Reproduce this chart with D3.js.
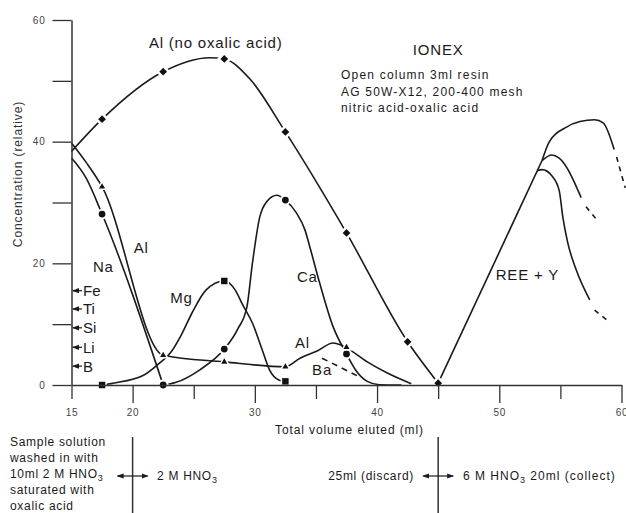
<!DOCTYPE html>
<html>
<head>
<meta charset="utf-8">
<script src="https://cdn.jsdelivr.net/npm/d3@7"></script>
<style>
  body { margin: 0; background: #fff; }
  svg { display: block; font-family: "Liberation Sans", Arial, Helvetica, sans-serif; }
</style>
</head>
<body>
<script>
// values: [total volume eluted (ml), concentration (relative)]
const alNoOxalic = [[15, 38.4], [17.5, 43.7], [22.5, 51.5], [26.3, 53.8], [27.5, 53.6], [29.6, 50.3], [32.5, 41.6], [37.5, 25], [42.5, 7.1], [45, 0.3]];
const alNoOxalicPts = [[17.5, 43.7], [22.5, 51.5], [27.5, 53.6], [32.5, 41.6], [37.5, 25], [42.5, 7.1], [45, 0.3]];

const na = [[15, 37.3], [16.2, 34], [17.5, 28.1], [22.5, 0]];
const naPts = [[17.5, 28.1], [22.5, 0]];

const al = [[15, 39.8], [16.2, 36.6], [17.5, 32.6], [22.5, 4.9], [27.5, 3.8], [32.5, 3.0], [33.7, 4.4], [35.1, 5.6], [36.4, 6.9], [37, 6.6], [37.5, 6.1], [39.2, 3.8], [40.8, 2], [42.8, 0.2]];
const alPts = [[17.5, 32.6], [22.5, 4.9], [27.5, 3.8], [32.5, 3.0], [37.5, 6.2]];

const mg = [[17.5, 0], [18.4, 0.3], [20.9, 1.6], [22.2, 3.6], [23.1, 5.3], [24, 8.3], [24.9, 12], [26, 15.6], [27.5, 17.1], [28.4, 15.6], [29, 13.2], [29.8, 10.2], [30.6, 5.8], [31.2, 2.5], [32, 0.8], [32.5, 0.6]];
const mgPts = [[17.5, 0], [27.5, 17.1], [32.5, 0.6]];

const ca = [[22.5, 0], [23.5, 0.4], [25.5, 2.5], [27.5, 5.9], [28.6, 9.2], [29.35, 12.8], [29.8, 20], [30.4, 27.6], [31, 30.2], [31.8, 31.2], [32.5, 30.4], [33.4, 28.3], [34.1, 25.5], [34.5, 22.7], [35.3, 16.8], [36.4, 9.6], [37.5, 5.1], [38.2, 2.6], [39.2, 0.6], [40.2, 0.05], [42, 0]];
const caPts = [[22.5, 0], [27.5, 5.9], [32.5, 30.4], [37.5, 5.1]];

const ba = [[35.5, 4.4], [38.7, 1.2]];

const reeStem = [[45, 0.3], [53.5, 36.9]];
const reeLow = [[53.1, 35.2], [53.5, 35.4], [54.3, 34.4], [54.9, 32], [55.2, 27.6], [55.6, 23.4], [56.3, 18.9], [57.4, 14]];
const reeLowTail = [[57.8, 12.3], [58.8, 10.7]];
const reeMid = [[53.5, 36.9], [54.3, 37.8], [54.9, 37.3], [56.7, 30.8]];
const reeMidTail = [[57.1, 29.3], [58, 27.1]];
const reeTop = [[53.5, 36.9], [54.1, 40], [55.5, 42.4], [56.6, 43.3], [57.8, 43.6], [58.5, 43.1], [59.4, 38.7]];
const reeTopTail = [[59.6, 37.5], [60.3, 32.4]];

const yTicks = [0, 10, 20, 30, 40, 50, 60];
const yTickLabels = [0, 20, 40, 60];
const xTicks = [15, 20, 25, 30, 35, 40, 45, 50, 55, 60];
const xTickLabels = [15, 20, 30, 40, 50, 60];

const sideElements = ["Fe", "Ti", "Si", "Li", "B"];
const sideLevels = [15.5, 12.5, 9.4, 6.2, 3.1];

const width = 626, height = 513;
const ink = "#1a1a1a";

const x = d3.scaleLinear().domain([15, 60]).range([71.5, 621.5]);
const y = d3.scaleLinear().domain([0, 60]).range([385, 20]);

const svg = d3.select("body").append("svg")
    .attr("width", width)
    .attr("height", height);

const defs = svg.append("defs");
defs.append("marker")
    .attr("id", "head")
    .attr("viewBox", "0 -3 7 6")
    .attr("refX", 6).attr("refY", 0)
    .attr("markerWidth", 7).attr("markerHeight", 6)
    .attr("markerUnits", "userSpaceOnUse")
    .attr("orient", "auto-start-reverse")
  .append("path")
    .attr("d", "M0,-2.6L7,0L0,2.6Z")
    .attr("fill", ink);

const smooth = d3.line().x(d => x(d[0])).y(d => y(d[1])).curve(d3.curveMonotoneX);
const straight = d3.line().x(d => x(d[0])).y(d => y(d[1]));

function curve(pts, gen, dash) {
  svg.append("path")
      .datum(pts)
      .attr("d", gen)
      .attr("fill", "none")
      .attr("stroke", ink)
      .attr("stroke-width", 1.6)
      .attr("stroke-linejoin", "round")
      .attr("stroke-dasharray", dash || null);
}

curve(alNoOxalic, smooth);
curve(na, smooth);
curve(al, smooth);
curve(mg, smooth);
curve(ca, smooth);
curve(ba, straight, "6,5");
curve(reeStem, straight);
curve(reeLow, smooth);
curve(reeMid, smooth);
curve(reeTop, smooth);
curve(reeLowTail, straight, "5,5");
curve(reeMidTail, straight, "5,5");
curve(reeTopTail, straight, "5,5");

function marks(pts, type, size, rot, halo) {
  svg.append("g")
    .selectAll("path")
    .data(pts)
    .join("path")
      .attr("transform", d => `translate(${x(d[0])},${y(d[1])}) rotate(${rot})`)
      .attr("d", d3.symbol(type, size))
      .attr("fill", "#111")
      .attr("stroke", "#fff")
      .attr("stroke-width", halo)
      .attr("paint-order", "stroke");
}

marks(alNoOxalicPts, d3.symbolSquare, 30, 45, 5);
marks(naPts, d3.symbolCircle, 36, 0, 4);
marks(caPts, d3.symbolCircle, 36, 0, 4);
marks(alPts, d3.symbolTriangle, 16, 0, 3);
marks(mgPts, d3.symbolSquare, 42, 0, 3);

// axes
const yAxis = svg.append("g")
    .attr("transform", `translate(${x(15)},0)`)
    .call(d3.axisLeft(y)
      .tickValues(yTicks)
      .tickSize(19)
      .tickSizeOuter(0)
      .tickPadding(7)
      .tickFormat(d => yTickLabels.includes(d) ? d : ""));

const xAxis = svg.append("g")
    .attr("transform", `translate(0,${y(0)})`)
    .call(d3.axisBottom(x)
      .tickValues(xTicks)
      .tickSize(18)
      .tickSizeOuter(0)
      .tickPadding(6)
      .tickFormat(d => xTickLabels.includes(d) ? d : ""));

xAxis.selectAll(".tick line")
    .attr("y2", d => (xTickLabels.includes(d) && d !== 15) ? 18 : 14);

[yAxis, xAxis].forEach(a => {
  a.attr("color", "#333");
  a.select(".domain").attr("stroke-width", 1.5);
  a.selectAll(".tick line").attr("stroke-width", 1.3);
  a.selectAll(".tick text")
      .attr("fill", "#444")
      .style("font-size", "10px")
      .style("letter-spacing", "0.8px")
      .style("font-family", "'Liberation Sans', Arial, sans-serif");
});

svg.append("text")
    .attr("x", (x(15) + x(60)) / 2 + 3)
    .attr("y", 434)
    .attr("text-anchor", "middle")
    .style("font-size", "12px")
    .style("letter-spacing", "0.9px")
    .attr("fill", ink)
    .text("Total volume eluted (ml)");

svg.append("text")
    .attr("transform", "translate(22,174) rotate(-90)")
    .attr("text-anchor", "middle")
    .style("font-size", "12px")
    .style("letter-spacing", "0.9px")
    .attr("fill", "#333")
    .text("Concentration (relative)");

// labels on the plot
const labels = [
  ["Al (no oxalic acid)", 26.8, 56.2],
  ["Na", 17.6, 19.4],
  ["Al", 20.7, 22.6],
  ["Mg", 24.0, 14.3],
  ["Ca", 34.3, 17.8],
  ["Al", 33.9, 6.9],
  ["Ba", 35.5, 2.5],
  ["REE + Y", 52.3, 18.1],
  ["IONEX", 45, 55.1]
];
svg.append("g")
    .attr("fill", ink)
    .style("font-size", "15px")
    .style("letter-spacing", "0.8px")
  .selectAll("text")
  .data(labels)
  .join("text")
    .attr("x", d => x(d[1]))
    .attr("y", d => y(d[2]))
    .attr("dy", "0.35em")
    .attr("text-anchor", "middle")
    .text(d => d[0]);

const info = ["Open column 3ml resin", "AG 50W-X12, 200-400 mesh", "nitric acid-oxalic acid"];
svg.append("g")
    .attr("fill", ink)
    .style("font-size", "12px")
    .style("letter-spacing", "1.2px")
  .selectAll("text")
  .data(info)
  .join("text")
    .attr("x", 341)
    .attr("y", (d, i) => 79 + i * 16.5)
    .text(d => d);

// element arrows against the axis
const side = svg.append("g").selectAll("g")
  .data(sideElements)
  .join("g")
    .attr("transform", (d, i) => `translate(0,${y(sideLevels[i])})`);
side.append("line")
    .attr("x1", 82).attr("x2", 73)
    .attr("stroke", ink).attr("stroke-width", 1.2)
    .attr("marker-end", "url(#head)");
side.append("text")
    .attr("x", 83)
    .attr("dy", "0.36em")
    .attr("fill", ink)
    .style("font-size", "15px")
    .text(d => d);

// eluent steps under the axis
[20, 45].forEach(v => {
  svg.append("line")
      .attr("x1", x(v)).attr("x2", x(v))
      .attr("y1", 437).attr("y2", height)
      .attr("stroke", "#333").attr("stroke-width", 1.5);
  svg.append("line")
      .attr("x1", x(v) - 15).attr("x2", x(v) + 15)
      .attr("y1", 476).attr("y2", 476)
      .attr("stroke", ink).attr("stroke-width", 1.2)
      .attr("marker-start", "url(#head)")
      .attr("marker-end", "url(#head)");
});

// parts: plain strings, or ["sub", "3"] for a subscript
function addText(px, py, parts, anchor, spacing) {
  const t = svg.append("text")
      .attr("x", px).attr("y", py)
      .attr("text-anchor", anchor || "start")
      .attr("fill", ink)
      .style("font-size", "12px")
      .style("letter-spacing", (spacing || 0.7) + "px");
  let shift = 0;
  parts.forEach(p => {
    if (Array.isArray(p)) {
      t.append("tspan").attr("dy", 3).style("font-size", "9px").text(p[1]);
      shift = -3;
    } else {
      t.append("tspan").attr("dy", shift || null).text(p);
      shift = 0;
    }
  });
  return t;
}

const stepLines = [["Sample solution"], ["washed in with"], ["10ml 2 M HNO", ["sub", "3"]], ["saturated with"], ["oxalic acid"]];
stepLines.forEach((parts, i) => addText(10, 446 + i * 16, parts));
addText(157, 480, ["2 M HNO", ["sub", "3"]]);
addText(414, 480, ["25ml (discard)"], "end");
addText(463, 480, ["6 M HNO", ["sub", "3"], " 20ml (collect)"], "start", 1);
</script>
</body>
</html>
